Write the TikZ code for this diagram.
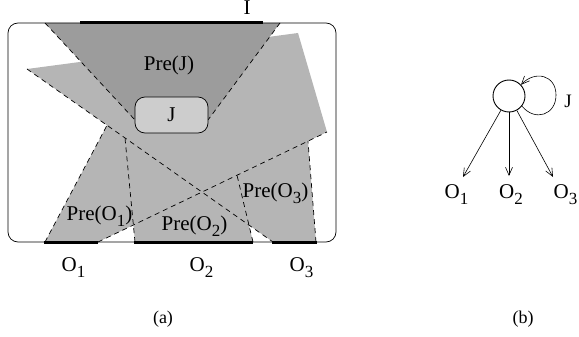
\documentclass[tikz,border=0pt]{standalone}
\usepackage{fontspec}
\setmainfont{Liberation Serif}
\usetikzlibrary{arrows.meta}
\definecolor{lightg}{HTML}{B5B5B5}
\definecolor{darkg}{HTML}{9C9C9C}
\definecolor{boxg}{HTML}{CDCDCD}
\newcommand{\lsub}[1]{\raisebox{-6pt}{\fontsize{17}{17}\selectfont #1}}
\begin{document}
\begin{tikzpicture}[x=1pt,y=-1pt,
  lbl/.style={font=\fontsize{21}{24}\selectfont, inner sep=0pt, anchor=base},
  captext/.style={font=\fontsize{18}{20}\selectfont, inner sep=0pt, anchor=base},
  dline/.style={dash pattern=on 5pt off 4pt, line width=0.7pt},
  bar/.style={line width=3pt},
  arr/.style={-{Straight Barb[length=8pt,width=7pt]}, line width=0.6pt}
]
\useasboundingbox (0,0) rectangle (579,337);

% Pre(O_i) regions
\fill[lightg] (27,69) -- (298,33) -- (327,132) -- (98,242) -- (45,242) -- (107,125.3) -- cycle;
\fill[lightg] (125,137.9) -- (135,242) -- (253,242) -- (237,175.2) -- cycle;
\fill[lightg] (202,192) -- (308,141.2) -- (316,242) -- (273,242) -- cycle;

% dashed borders
\draw[dline] (27,69) -- (273,242);
\draw[dline] (98,242) -- (327,132);
\draw[dline] (45,242) -- (107,125.3);
\draw[dline] (135,242) -- (125,137.9);
\draw[dline] (253,242) -- (237,175.2);
\draw[dline] (316,242) -- (308,141.2);

% Pre(J)
\fill[darkg] (45,23) -- (280,23) -- (208,120) -- (135,120) -- cycle;
\draw[dline] (45,23) -- (135,120);
\draw[dline] (280,23) -- (208,120);

\node[draw, fill=boxg, rounded corners=10pt, minimum width=73pt, minimum height=36pt,
      line width=0.7pt, inner sep=0pt, font=\fontsize{21}{24}\selectfont] (jbox) at (171.5,115) {J};

% frame
\draw[line width=0.7pt, rounded corners=10pt] (8,23) rectangle (336,242);

% thick bars
\draw[bar] (80,23) -- (263,23);
\draw[bar] (44,242) -- (98,242);
\draw[bar] (134,242) -- (253,242);
\draw[bar] (272,242) -- (317,242);

% labels (a)
\node[lbl] (lI) at (247,15) {I};
\node[lbl] (lpj) at (169,70.5) {Pre(J)};
\node[lbl] (lp1) at (99.5,220) {Pre(O\lsub{1})};
\node[lbl] (lp2) at (194.5,230) {Pre(O\lsub{2})};
\node[lbl] (lp3) at (275.5,197) {Pre(O\lsub{3})};
\node[lbl] (lo1) at (73.5,271) {O\lsub{1}};
\node[lbl] (lo2) at (201.5,271) {O\lsub{2}};
\node[lbl] (lo3) at (301.5,271) {O\lsub{3}};
\node[captext] (capa) at (163,323) {(a)};

% (b)
\node[draw, circle, minimum size=32pt, inner sep=0pt, line width=0.9pt] (c) at (509,96) {};
\coordinate (e1) at (463,177);
\coordinate (e2) at (509,176);
\coordinate (e3) at (553,177);
\draw[arr] (c) -- (e1);
\draw[arr] (c) -- (e2);
\draw[arr] (c) -- (e3);
\draw[arr] (c.-38) .. controls (535,122) and (556,115) .. (556,95)
                   .. controls (556,75) and (535,70) .. (c.43);
\node[lbl, font=\fontsize{19}{22}\selectfont] (lj) at (568,108) {J};
\node[lbl] (b1) at (456.5,198) {O\lsub{1}};
\node[lbl] (b2) at (511,198) {O\lsub{2}};
\node[lbl] (b3) at (565.5,198) {O\lsub{3}};
\node[captext] (capb) at (523,323) {(b)};
\end{tikzpicture}
\end{document}
